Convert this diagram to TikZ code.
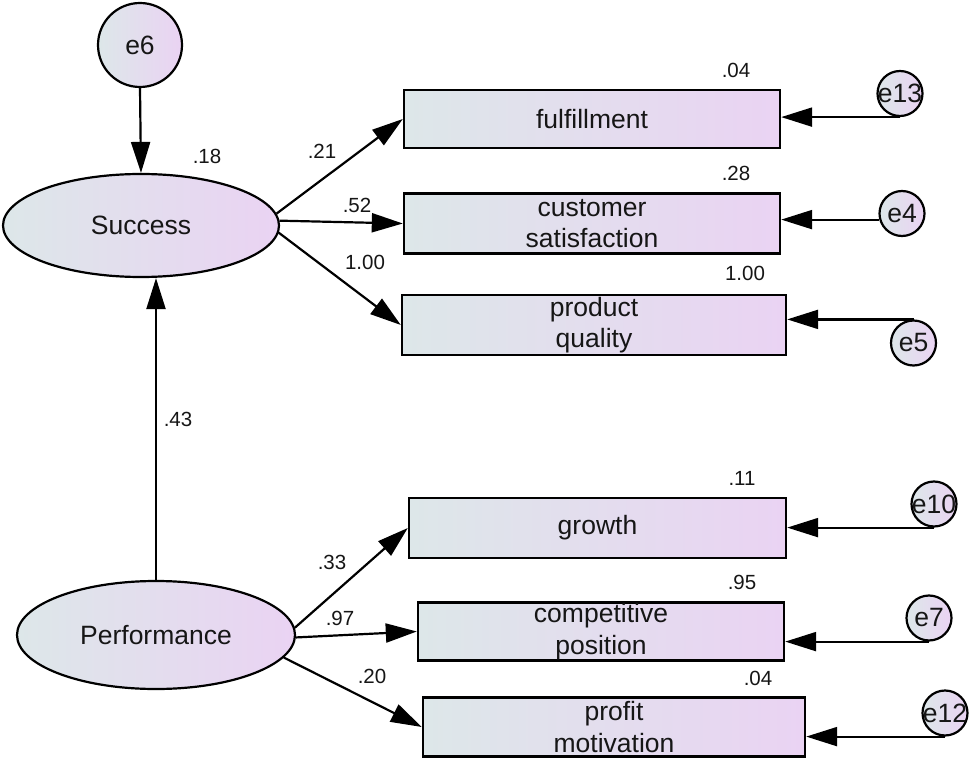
\documentclass[tikz,border=0pt]{standalone}
\usepackage{fontspec}
\setmainfont{Liberation Sans}
\usetikzlibrary{arrows.meta,shapes.geometric}
\definecolor{fillL}{RGB}{221,231,233}
\definecolor{fillR}{RGB}{234,211,243}
\definecolor{ink}{RGB}{22,22,22}

\begin{document}
\begin{tikzpicture}[x=1pt,y=-1pt,
  every node/.style={text=ink},
  mainfont/.style={font=\fontsize{26.5}{31.5}\selectfont},
  obs/.style={rectangle, draw=black, line width=2.4pt, inner sep=0pt,
    left color=fillL, right color=fillR, mainfont, align=center},
  lat/.style={ellipse, draw=black, line width=2.2pt, inner sep=0pt,
    left color=fillL, right color=fillR, mainfont},
  err/.style={circle, draw=black, line width=2.2pt, inner sep=0pt,
    left color=fillL, right color=fillR, mainfont},
  coef/.style={font=\fontsize{20.5}{24}\selectfont, inner sep=0pt},
  link/.style={draw=black, line width=2.2pt, -{Triangle[length=31pt,width=19pt]}},
]
\path[use as bounding box, fill=white] (0,0) rectangle (969,759);

% latent variables and the disturbance of Success
\node[err, minimum size=84pt] (e6) at (140,45) {\makebox[0pt]{e6}};
\node[lat, minimum width=276pt, minimum height=103pt] (succ) at (141,225.5) {Success};
\node[lat, minimum width=278pt, minimum height=108pt] (perf) at (156,635) {Performance};

% observed indicators
\node[obs, minimum width=376pt, minimum height=58pt] (ful) at (592,119) {fulfillment};
\node[obs, minimum width=376pt, minimum height=60pt] (cs)  at (592,223.5) {customer\\satisfaction};
\node[obs, minimum width=384pt, minimum height=60pt] (pq)  at (594,325) {product\\quality};
\node[obs, minimum width=377pt, minimum height=60pt] (gr)  at (597.5,528) {growth};
\node[obs, minimum width=366pt, minimum height=58pt] (cp)  at (601,631.5) {competitive\\position};
\node[obs, minimum width=382pt, minimum height=59pt] (pm)  at (614,727) {profit\\motivation};

% measurement errors
\node[err, minimum size=45pt] (e13) at (900,93.5)  {\makebox[0pt]{e13}};
\node[err, minimum size=45pt] (e4)  at (902,213.5) {\makebox[0pt]{e4}};
\node[err, minimum size=45pt] (e5)  at (913.5,343) {\makebox[0pt]{e5}};
\node[err, minimum size=45pt] (e10) at (934,504)   {\makebox[0pt]{e10}};
\node[err, minimum size=45pt] (e7)  at (929,618)   {\makebox[0pt]{e7}};
\node[err, minimum size=45pt] (e12) at (945,713)   {\makebox[0pt]{e12}};

% structural paths
\draw[link] (e6.south) -- (succ.north);
\draw[link] (perf.north) -- (perf.north |- succ.south);

% loadings
\draw[link] (succ.5)  -- (ful.west);
\draw[link] (succ.2)  -- (cs.west);
\draw[link] (succ.-3) -- (pq.west);
\draw[link] (perf.3)   -- (gr.west);
\draw[link] (perf.-1)  -- (cp.west);
\draw[link] (perf.-10) -- (pm.west);

% error terms
\draw[link] (e13.south) -- (ful.east |- e13.south);
\draw[link] (e4.195)    -- (cs.east |- e4.195);
\draw[link] (e5.north)  -- (pq.east |- e5.north);
\draw[link] (e10.south) -- (gr.east |- e10.south);
\draw[link] (e7.south)  -- (cp.east |- e7.south);
\draw[link] (e12.south) -- (pm.east |- e12.south);

% estimates
\node[coef] (r18) at (207,156) {.18};
\node[coef] (b21) at (322,151) {.21};
\node[coef] (b52) at (357,205) {.52};
\node[coef] (b100) at (365,262) {1.00};
\node[coef] (r04a) at (736,70) {.04};
\node[coef] (r28) at (736,173) {.28};
\node[coef] (r100) at (745,273) {1.00};
\node[coef] (b43) at (178,419) {.43};
\node[coef] (r11) at (742,478) {.11};
\node[coef] (r95) at (742,582) {.95};
\node[coef] (r04b) at (758,678) {.04};
\node[coef] (b33) at (332,562) {.33};
\node[coef] (b97) at (340,618) {.97};
\node[coef] (b20) at (372,676) {.20};
\end{tikzpicture}
\end{document}
